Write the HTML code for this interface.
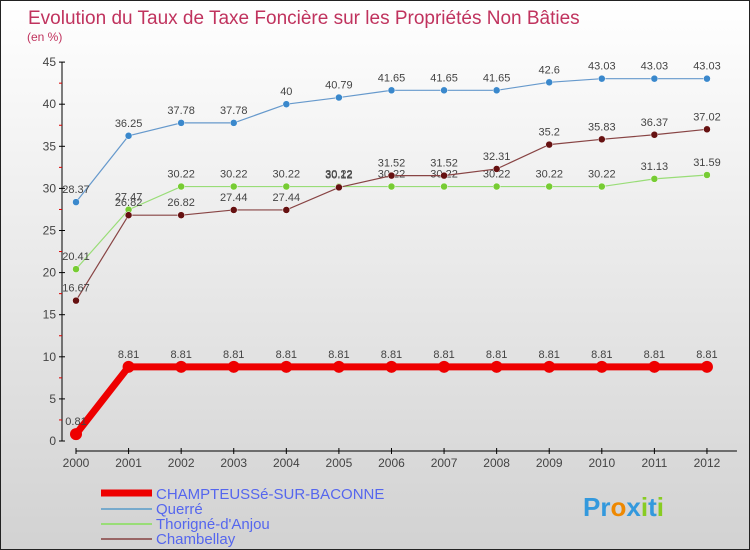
<!DOCTYPE html>
<html><head><meta charset="utf-8"><style>
body{margin:0}
#c{width:750px;height:550px;position:relative;overflow:hidden;box-sizing:border-box;border:1px solid #222;background:linear-gradient(#ffffff,#d2d2d2);font-family:"Liberation Sans",sans-serif}
</style></head><body>
<div id="c">
<svg id="s" width="750" height="550" xmlns="http://www.w3.org/2000/svg">
<text x="27" y="23" font-size="19" fill="#c0335e">Evolution du Taux de Taxe Foncière sur les Propriétés Non Bâties</text>
<text x="26" y="40" font-size="12" fill="#c0335e">(en %)</text>
<g id="axes"></g><g id="series"></g>
<g>
<line x1="100" y1="492" x2="151" y2="492" stroke="#ee0000" stroke-width="7"/>
<text x="155" y="498" font-size="15" fill="#5566ee">CHAMPTEUSSé-SUR-BACONNE</text>
<line x1="100" y1="508" x2="151" y2="508" stroke="#77aacc" stroke-width="2"/>
<text x="155" y="513" font-size="15" fill="#5566ee">Querré</text>
<line x1="100" y1="523" x2="151" y2="523" stroke="#99dd77" stroke-width="2"/>
<text x="155" y="528" font-size="15" fill="#5566ee">Thorigné-d'Anjou</text>
<line x1="100" y1="538" x2="151" y2="538" stroke="#996666" stroke-width="2"/>
<text x="155" y="543" font-size="15" fill="#5566ee">Chambellay</text>
</g>
<g><text x="582" y="515" font-size="26" font-weight="bold" fill="#3399dd">Pr<tspan fill="#ee8800">o</tspan><tspan fill="#3399dd">x</tspan><tspan fill="#88cc22">i</tspan><tspan fill="#3399dd">t</tspan><tspan fill="#88cc22">i</tspan></text></g>
</svg></div>
<script>
const years=[2000,2001,2002,2003,2004,2005,2006,2007,2008,2009,2010,2011,2012];
const yTicks=[0,5,10,15,20,25,30,35,40,45];
const champ=[0.81,8.81,8.81,8.81,8.81,8.81,8.81,8.81,8.81,8.81,8.81,8.81,8.81];
const querre=[28.37,36.25,37.78,37.78,40,40.79,41.65,41.65,41.65,42.6,43.03,43.03,43.03];
const thorigne=[20.41,27.47,30.22,30.22,30.22,30.22,30.22,30.22,30.22,30.22,30.22,31.13,31.59];
const chambellay=[16.67,26.82,26.82,27.44,27.44,30.12,31.52,31.52,32.31,35.2,35.83,36.37,37.02];
const NS="http://www.w3.org/2000/svg";
const x=i=>75+i*52.58;
const y=v=>440-v*8.42;
function mk(t,a,p){const e=document.createElementNS(NS,t);for(const k in a)e.setAttribute(k,a[k]);p.appendChild(e);return e;}
const ax=document.getElementById('axes');
const yl=mk('line',{x1:61,y1:y(45),x2:61,y2:y(0),stroke:'#000'},ax);


yTicks.forEach(t=>{
 mk('line',{x1:58,y1:y(t),x2:64,y2:y(t),stroke:'#000'},ax);
 if(t<45) mk('line',{x1:58,y1:y(t+2.5),x2:61,y2:y(t+2.5),stroke:'#d00'},ax);
 const tx=mk('text',{x:55,y:y(t)+4,'font-size':12,fill:'#444','text-anchor':'end'},ax);
 tx.textContent=t;
 
 
});
const xl=mk('line',{x1:x(0),y1:450,x2:x(12)+30,y2:450,stroke:'#000'},ax);


years.forEach((yr,i)=>{
 mk('line',{x1:x(i),y1:447,x2:x(i),y2:453,stroke:'#000'},ax);
 const tx=mk('text',{x:x(i),y:466,'font-size':12,fill:'#444','text-anchor':'middle'},ax);
 tx.textContent=yr;
 
 
});
const sg=document.getElementById('series');
function draw(d,name,col,dot,w,r){
 const g=mk('g',{},sg);
 
 
 const pl=mk('polyline',{points:d.map((v,i)=>x(i)+','+y(v)).join(' '),fill:'none',stroke:col,'stroke-width':w},g);
 
 
 d.forEach((v,i)=>{
  const c=mk('circle',{cx:x(i),cy:y(v),r:r,fill:dot,stroke:'#fff','stroke-width':w>3?0:0.5},g);
  
  
  const t=mk('text',{x:x(i),y:y(v)-9,'font-size':11,fill:'#444','text-anchor':'middle'},g);
  t.textContent=v;
  
  
 });
}
draw(querre,'querre','#6699cc','#3a88cc',1.2,3.5);
draw(thorigne,'thorigne','#99dd77','#77cc33',1.2,3.5);
draw(chambellay,'chambellay','#884444','#661111',1.2,3.5);
draw(champ,'champteusse','#ee0000','#ee0000',7,6);
</script>
</body></html>
